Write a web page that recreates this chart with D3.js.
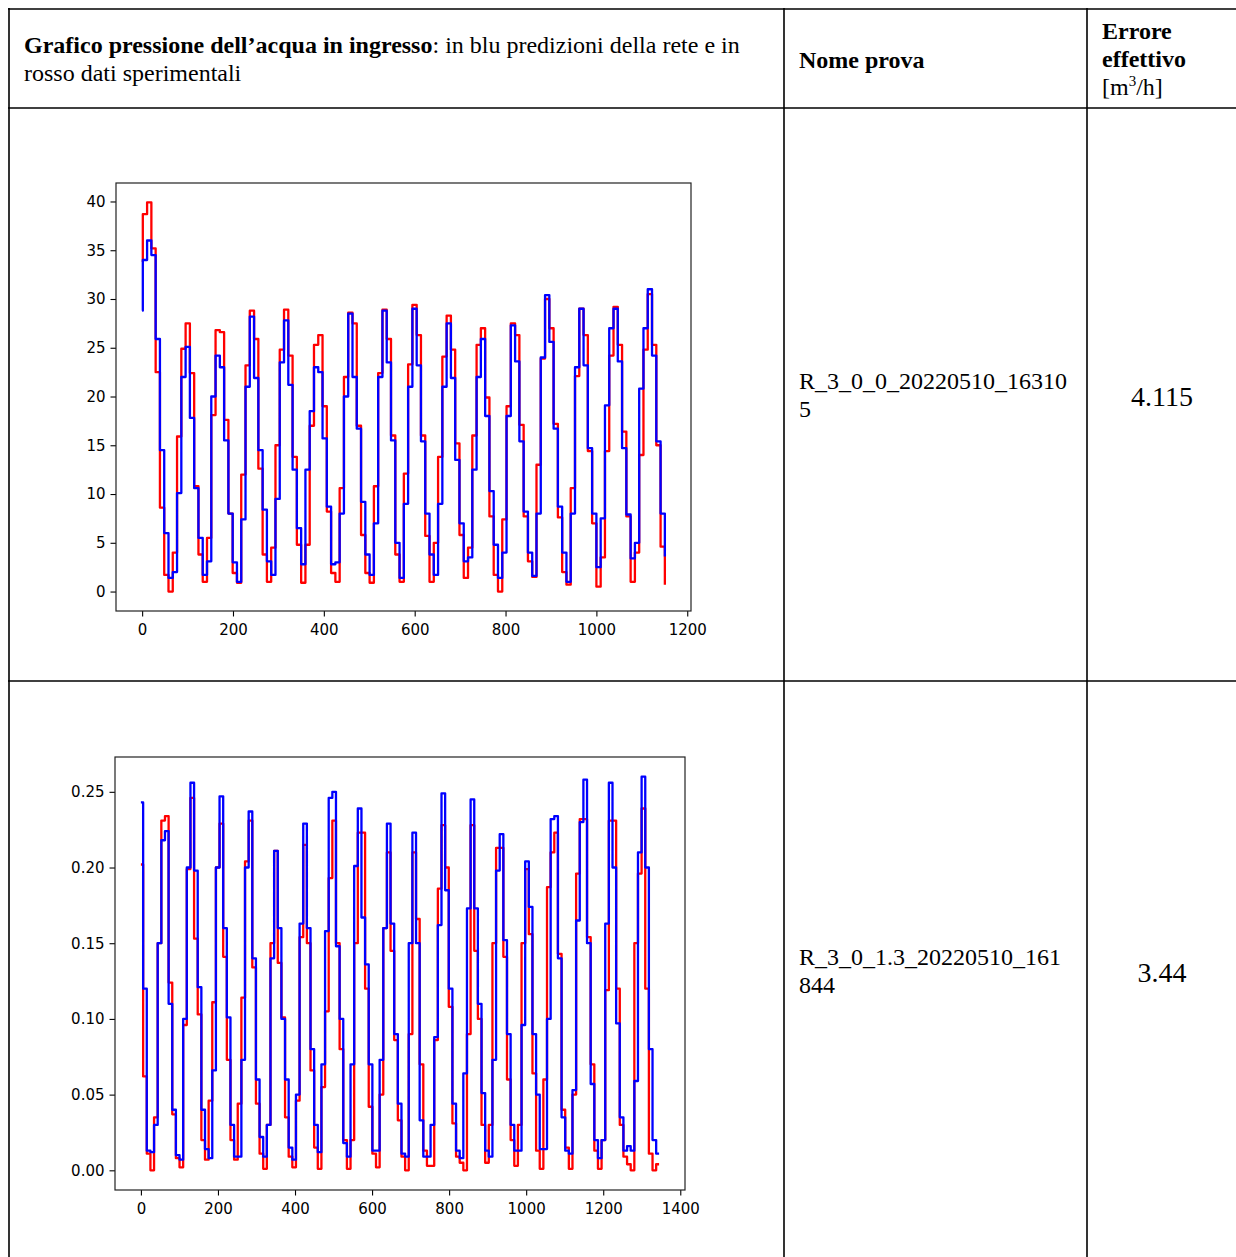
<!DOCTYPE html>
<html>
<head>
<meta charset="utf-8">
<script src="https://cdn.jsdelivr.net/npm/d3@7"></script>
<style>
  body { margin: 0; background: #ffffff; }
  svg { display: block; }
</style>
</head>
<body>
<svg id="page" width="1236" height="1257"></svg>
<script>
// ---------------------------------------------------------------
// Test R_3_0_0_20220510_163105 : inlet water pressure, one value per logging step
// ---------------------------------------------------------------
const stepWidth1 = 9.42;     // samples covered by one logged value
const firstStep1 = 1.5;      // end of the first (partial) step
const measured1 = [
  33.8, 38.7, 39.9, 35.2, 22.5, 8.6, 1.7, 0.0, 4.0, 15.9,
  24.9, 27.5, 22.4, 10.8, 3.8, 1.0, 5.5, 18.1, 26.8, 26.6,
  17.6, 8.0, 1.9, 0.9, 12.0, 23.2, 28.8, 25.9, 12.6, 3.8,
  1.0, 4.5, 15.0, 24.8, 28.9, 24.2, 13.8, 4.8, 0.9, 4.8,
  17.0, 25.3, 26.3, 19.0, 8.2, 1.9, 1.0, 10.6, 22.0, 28.6,
  27.5, 17.0, 5.8, 1.9, 0.9, 10.8, 22.4, 28.9, 25.9, 16.0,
  3.8, 1.0, 12.1, 23.3, 29.4, 26.3, 16.0, 5.7, 1.0, 5.0,
  13.8, 24.1, 28.3, 24.8, 15.2, 5.8, 1.4, 4.5, 16.0, 25.3,
  27.0, 19.9, 7.7, 1.7, 0.0, 7.4, 19.0, 27.5, 26.3, 17.1,
  7.7, 3.1, 1.5, 13.0, 23.9, 30.0, 27.0, 17.2, 7.6, 2.0,
  0.7, 10.6, 22.1, 29.0, 26.3, 14.4, 7.0, 0.5, 3.5, 14.4,
  24.2, 29.2, 25.3, 16.4, 7.7, 1.0, 4.0, 14.0, 24.8, 30.5,
  25.3, 15.0, 4.6, 0.7
];
const predicted1 = [
  28.8, 34.0, 36.0, 34.5, 25.9, 14.5, 6.0, 1.4, 2.0, 10.1,
  22.0, 25.1, 17.8, 10.6, 5.5, 1.7, 3.1, 20.0, 24.2, 23.0,
  15.5, 8.0, 3.0, 1.0, 7.4, 21.0, 28.2, 21.9, 14.5, 8.4,
  3.1, 1.7, 9.5, 23.5, 27.8, 21.2, 12.5, 6.5, 2.8, 12.5,
  18.5, 23.0, 22.5, 15.7, 8.7, 2.8, 3.0, 8.0, 20.0, 28.5,
  22.0, 16.7, 9.2, 3.8, 1.7, 7.0, 22.0, 28.8, 23.5, 15.5,
  5.0, 1.4, 9.0, 21.0, 29.0, 23.2, 15.4, 8.0, 3.8, 1.7,
  9.0, 21.0, 27.5, 21.9, 13.5, 7.0, 3.1, 3.5, 12.5, 22.0,
  25.9, 18.0, 10.3, 4.8, 1.4, 4.0, 18.0, 27.3, 23.6, 15.4,
  8.2, 4.0, 1.6, 8.0, 24.0, 30.4, 25.6, 16.7, 8.7, 4.0,
  1.0, 8.0, 23.0, 29.0, 23.2, 14.7, 8.0, 2.5, 7.5, 19.1,
  27.0, 29.0, 23.6, 14.7, 7.9, 3.4, 5.0, 20.8, 27.0, 31.0,
  24.2, 15.4, 8.0, 3.6
];
const xTicks1 = [0, 200, 400, 600, 800, 1000, 1200];
const yTicks1 = [0, 5, 10, 15, 20, 25, 30, 35, 40];

// ---------------------------------------------------------------
// Test R_3_0_1.3_20220510_161844
// ---------------------------------------------------------------
const stepWidth2 = 9.444;
const firstStep2 = 5.8;
const measured2 = [
  0.202, 0.062, 0.011, 0.000, 0.035, 0.150, 0.231, 0.234, 0.124, 0.037,
  0.008, 0.002, 0.096, 0.199, 0.246, 0.153, 0.103, 0.020, 0.007, 0.046,
  0.111, 0.200, 0.229, 0.141, 0.073, 0.020, 0.007, 0.044, 0.114, 0.204,
  0.231, 0.134, 0.044, 0.011, 0.001, 0.030, 0.150, 0.211, 0.137, 0.101,
  0.035, 0.009, 0.002, 0.046, 0.154, 0.215, 0.150, 0.066, 0.015, 0.001,
  0.055, 0.105, 0.193, 0.231, 0.150, 0.080, 0.020, 0.001, 0.020, 0.150,
  0.223, 0.223, 0.120, 0.042, 0.011, 0.002, 0.050, 0.160, 0.210, 0.145,
  0.086, 0.033, 0.009, 0.000, 0.090, 0.210, 0.166, 0.070, 0.013, 0.003,
  0.003, 0.086, 0.186, 0.228, 0.200, 0.108, 0.031, 0.009, 0.005, 0.000,
  0.090, 0.228, 0.145, 0.100, 0.030, 0.005, 0.030, 0.150, 0.213, 0.213,
  0.141, 0.060, 0.020, 0.003, 0.030, 0.150, 0.199, 0.156, 0.064, 0.013,
  0.001, 0.060, 0.187, 0.210, 0.223, 0.143, 0.040, 0.015, 0.001, 0.050,
  0.196, 0.232, 0.232, 0.154, 0.070, 0.013, 0.001, 0.020, 0.119, 0.231,
  0.231, 0.120, 0.030, 0.009, 0.004, 0.000, 0.150, 0.196, 0.239, 0.120,
  0.011, 0.000, 0.004
];
const predicted2 = [
  0.243, 0.120, 0.013, 0.012, 0.030, 0.150, 0.218, 0.224, 0.110, 0.040,
  0.010, 0.007, 0.100, 0.200, 0.256, 0.198, 0.121, 0.040, 0.014, 0.008,
  0.066, 0.200, 0.247, 0.160, 0.101, 0.030, 0.009, 0.009, 0.073, 0.200,
  0.237, 0.140, 0.060, 0.022, 0.009, 0.030, 0.140, 0.211, 0.160, 0.100,
  0.060, 0.015, 0.007, 0.050, 0.163, 0.229, 0.160, 0.080, 0.030, 0.012,
  0.070, 0.158, 0.246, 0.250, 0.148, 0.100, 0.018, 0.009, 0.070, 0.201,
  0.239, 0.167, 0.136, 0.070, 0.013, 0.013, 0.073, 0.160, 0.229, 0.163,
  0.090, 0.044, 0.011, 0.009, 0.150, 0.223, 0.150, 0.033, 0.009, 0.009,
  0.030, 0.088, 0.162, 0.249, 0.185, 0.120, 0.044, 0.013, 0.008, 0.064,
  0.173, 0.245, 0.173, 0.110, 0.051, 0.013, 0.009, 0.073, 0.198, 0.222,
  0.152, 0.090, 0.030, 0.013, 0.013, 0.096, 0.204, 0.174, 0.090, 0.050,
  0.014, 0.014, 0.100, 0.232, 0.234, 0.140, 0.035, 0.013, 0.011, 0.053,
  0.165, 0.230, 0.258, 0.150, 0.057, 0.020, 0.008, 0.020, 0.163, 0.256,
  0.200, 0.097, 0.035, 0.013, 0.016, 0.013, 0.059, 0.210, 0.260, 0.200,
  0.080, 0.020, 0.011
];
const lastSample2 = 1345;
const xTicks2 = [0, 200, 400, 600, 800, 1000, 1200, 1400];
const yTicks2 = [0.00, 0.05, 0.10, 0.15, 0.20, 0.25];

// Table texts
const headerBold = "Grafico pressione dell\u2019acqua in ingresso";
const headerRest = ": in blu predizioni della rete e in";
const headerLine2 = "rosso dati sperimentali";
const testNames = [["R_3_0_0_20220510_16310", "5"], ["R_3_0_1.3_20220510_161", "844"]];
const errors = ["4.115", "3.44"];

// ---------------------------------------------------------------
const svg = d3.select("#page");
const serif = "'Liberation Serif', 'Times New Roman', serif";
const sans = "'DejaVu Sans', sans-serif";

// table grid
const grid = svg.append("g").attr("stroke", "#000").attr("stroke-width", 1.6);
[[8, 9, 1236, 9], [8, 108, 1236, 108], [8, 681, 1236, 681],
 [9, 8, 9, 1257], [784, 8, 784, 1257], [1087, 8, 1087, 1257]]
  .forEach(([x1, y1, x2, y2]) => grid.append("line")
    .attr("x1", x1).attr("y1", y1).attr("x2", x2).attr("y2", y2));

// header row
const head1 = svg.append("text").attr("x", 24).attr("y", 52.5)
  .attr("font-family", serif).attr("font-size", 24);
head1.append("tspan").attr("font-weight", "bold").text(headerBold);
head1.append("tspan").text(headerRest);
svg.append("text").attr("x", 24).attr("y", 80.5)
  .attr("font-family", serif).attr("font-size", 24).text(headerLine2);

svg.append("text").attr("x", 799).attr("y", 67.5)
  .attr("font-family", serif).attr("font-size", 24).attr("font-weight", "bold")
  .text("Nome prova");
svg.append("text").attr("x", 1102).attr("y", 38.5)
  .attr("font-family", serif).attr("font-size", 24).attr("font-weight", "bold")
  .text("Errore");
svg.append("text").attr("x", 1102).attr("y", 66.5)
  .attr("font-family", serif).attr("font-size", 24).attr("font-weight", "bold")
  .text("effettivo");
const unit = svg.append("text").attr("x", 1102).attr("y", 95)
  .attr("font-family", serif).attr("font-size", 24);
unit.append("tspan").text("[m");
unit.append("tspan").attr("dy", -9).attr("font-size", 15).text("3");
unit.append("tspan").attr("dy", 9).text("/h]");

// body rows: test name and error
const rowCenters = [396, 972];
testNames.forEach((lines, i) => {
  lines.forEach((ln, j) => {
    svg.append("text").attr("x", 799).attr("y", rowCenters[i] - 7.5 + j * 28)
      .attr("font-family", serif).attr("font-size", 24).text(ln);
  });
  svg.append("text").attr("x", 1162).attr("y", rowCenters[i] + 10)
    .attr("text-anchor", "middle")
    .attr("font-family", serif).attr("font-size", 28).text(errors[i]);
});

// ---------------------------------------------------------------
// step-series chart
function stepPoints(values, firstStep, stepWidth, lastSample) {
  const pts = values.map((v, i) => ({ x: i === 0 ? 0 : firstStep + (i - 1) * stepWidth, y: v }));
  const last = pts[pts.length - 1];
  if (lastSample !== undefined && lastSample > last.x) pts.push({ x: lastSample, y: last.y });
  return pts;
}

function drawChart(cfg) {
  const g = svg.append("g").attr("transform", `translate(${cfg.left},${cfg.top})`);
  const red = stepPoints(cfg.measured, cfg.firstStep, cfg.stepWidth, cfg.lastSample);
  const blue = stepPoints(cfg.predicted, cfg.firstStep, cfg.stepWidth, cfg.lastSample);
  const all = red.concat(blue);

  // 5% margins around the data, as the plotting library does
  const [x0, x1] = d3.extent(all, d => d.x);
  const [y0, y1] = d3.extent(all, d => d.y);
  const xPad = (x1 - x0) * 0.05, yPad = (y1 - y0) * 0.05;
  const x = d3.scaleLinear().domain([x0 - xPad, x1 + xPad]).range([0, cfg.width]);
  const y = d3.scaleLinear().domain([y0 - yPad, y1 + yPad]).range([cfg.height, 0]);

  const clipId = "clip" + cfg.id;
  g.append("clipPath").attr("id", clipId).append("rect")
    .attr("width", cfg.width).attr("height", cfg.height);

  const line = d3.line().x(d => x(d.x)).y(d => y(d.y)).curve(d3.curveStepAfter);
  const plot = g.append("g").attr("clip-path", `url(#${clipId})`);
  plot.append("path").datum(red).attr("d", line)
    .attr("fill", "none").attr("stroke", "#ff0000").attr("stroke-width", 2.3)
    .attr("stroke-linejoin", "round");
  plot.append("path").datum(blue).attr("d", line)
    .attr("fill", "none").attr("stroke", "#0000ff").attr("stroke-width", 2.3)
    .attr("stroke-linejoin", "round");

  const xAxis = g.append("g").attr("transform", `translate(0,${cfg.height})`)
    .call(d3.axisBottom(x).tickValues(cfg.xTicks).tickSize(5.5).tickPadding(8).tickFormat(d3.format("d")));
  const yAxis = g.append("g")
    .call(d3.axisLeft(y).tickValues(cfg.yTicks).tickSize(5.5).tickPadding(5).tickFormat(cfg.yFormat));
  [xAxis, yAxis].forEach(a => {
    a.select(".domain").remove();
    a.selectAll("line").attr("stroke", "#000").attr("stroke-width", 1.1);
    a.selectAll("text").attr("font-family", sans).attr("font-size", 15).attr("fill", "#000");
  });

  g.append("rect").attr("width", cfg.width).attr("height", cfg.height)
    .attr("fill", "none").attr("stroke", "#222").attr("stroke-width", 1.2);
}

drawChart({
  id: 1, left: 116, top: 183, width: 575, height: 428,
  measured: measured1, predicted: predicted1,
  firstStep: firstStep1, stepWidth: stepWidth1,
  xTicks: xTicks1, yTicks: yTicks1, yFormat: d3.format("d")
});

drawChart({
  id: 2, left: 115, top: 757, width: 570, height: 433,
  measured: measured2, predicted: predicted2,
  firstStep: firstStep2, stepWidth: stepWidth2, lastSample: lastSample2,
  xTicks: xTicks2, yTicks: yTicks2, yFormat: d3.format(".2f")
});
</script>
</body>
</html>
